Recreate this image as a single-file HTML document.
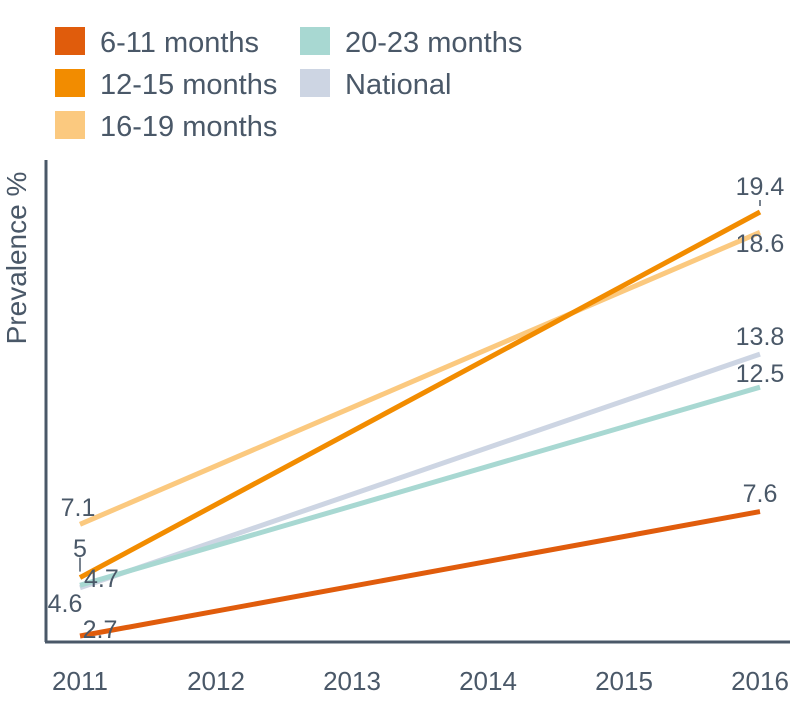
<!DOCTYPE html>
<html><head><meta charset="utf-8"><style>
body{margin:0;background:#fff;font-family:"Liberation Sans",sans-serif}
svg text{font-family:"Liberation Sans",sans-serif;fill:#4a5868}
</style></head><body>
<svg id="chart" width="800" height="700">
<g id="legend"></g>
<line x1="46" y1="160" x2="46" y2="642" stroke="#4a5868" stroke-width="3"/>
<line x1="45" y1="642" x2="790" y2="642" stroke="#4a5868" stroke-width="3"/>
<text x="26" y="258" font-size="28" transform="rotate(-90 26 258)" text-anchor="middle">Prevalence %</text>
<g id="ticks"></g><g id="lines"></g><g id="labels"></g>
</svg>
<script>
const years=["2011","2012","2013","2014","2015","2016"];
const seriesNames=["6-11 months","12-15 months","16-19 months","20-23 months","National"];
const colors=["#e05c0c","#f28c00","#fbc97f","#a8d8d2","#cdd5e3"];
const v611=[2.7,7.6];
const v1215=[5,19.4];
const v1619=[7.1,18.6];
const v2023=[4.7,12.5];
const vNat=[4.6,13.8];
const NS="http://www.w3.org/2000/svg";
function X(i){return 80+i*136;}
function Y(v){return 636-(v-2.7)*25.39;}
function mk(t,a,p){const e=document.createElementNS(NS,t);for(const k in a)e.setAttribute(k,a[k]);document.getElementById(p).appendChild(e);return e;}
years.forEach((y,i)=>{const t=mk('text',{x:X(i),y:690,'font-size':26,'text-anchor':'middle'},'ticks');t.textContent=y;

});
const legPos=[[55,42],[55,84],[55,126],[300,42],[300,84]];
seriesNames.forEach((n,i)=>{const r=mk('rect',{x:legPos[i][0],y:legPos[i][1]-15,width:30,height:28,fill:colors[i]},'legend');


const t=mk('text',{x:legPos[i][0]+45,y:legPos[i][1]+10,'font-size':29},'legend');t.textContent=n;

});
const all=[v611,v1215,v1619,v2023,vNat];
const order=[4,3,2,1,0];
order.forEach(i=>{const d=all[i];const l=mk('line',{x1:X(0),y1:Y(d[0]),x2:X(5),y2:Y(d[1]),stroke:colors[i],'stroke-width':5},'lines');

});
function lab(txt,x,y,anchor){const t=mk('text',{x:x,y:y,'font-size':25,'text-anchor':anchor||'middle'},'labels');t.textContent=txt;

}
lab(v611[0],100,638);lab(v1215[0],80,557);lab(v1619[0],78,516);lab(v2023[0],84,587,'start');lab(vNat[0],65,612);
mk('line',{x1:X(0),y1:Y(v1215[0])-6,x2:X(0),y2:Y(v1215[0])-20,stroke:'#4a5868','stroke-width':1.5},'labels');
lab(vNat[1],760,345);lab(v2023[1],760,382);lab(v1619[1],760,252);lab(v1215[1],760,195);lab(v611[1],760,502);
mk('line',{x1:X(5),y1:Y(v1215[1])-6,x2:X(5),y2:Y(v1215[1])-12,stroke:'#4a5868','stroke-width':1.5},'labels');
</script>
</body></html>
